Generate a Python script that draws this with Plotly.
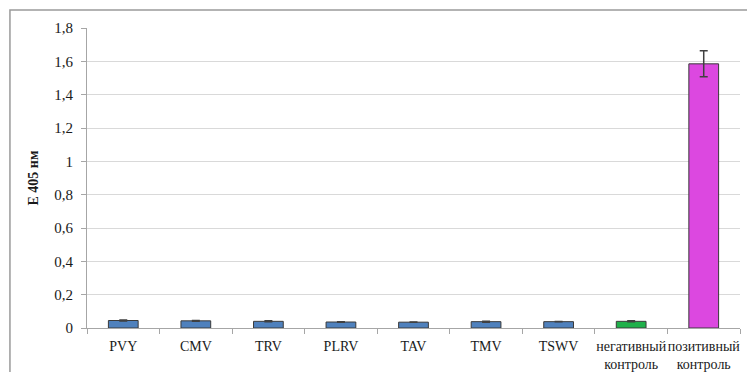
import plotly.graph_objects as go

# Samples tested and their mean absorbance at 405 nm
categories = ["PVY", "CMV", "TRV", "PLRV", "TAV", "TMV", "TSWV",
              "негативный<br>контроль", "позитивный<br>контроль"]
absorbance = [0.045, 0.043, 0.040, 0.036, 0.035, 0.038, 0.038, 0.040, 1.585]
errors = [0.003, 0.002, 0.003, 0.002, 0.001, 0.003, 0.001, 0.003, 0.078]
bar_colors = ["#4f81bd"] * 7 + ["#1fb04a", "#dc48e0"]
y_ticks = [0, 0.2, 0.4, 0.6, 0.8, 1.0, 1.2, 1.4, 1.6, 1.8]

SERIF = "Liberation Serif, Times New Roman, DejaVu Serif, serif"

fig = go.Figure(go.Bar(
    x=categories,
    y=absorbance,
    marker=dict(color=bar_colors, line=dict(color="#3a3a3a", width=1)),
    error_y=dict(type="data", array=errors, visible=True,
                 color="#404040", thickness=1.5, width=4),
))

# Outer frame around the chart
fig.add_shape(type="rect", xref="paper", yref="paper",
              x0=-0.118, x1=1.06, y0=-0.25, y1=1.06,
              line=dict(color="#9a9a9a", width=1.5), fillcolor="rgba(0,0,0,0)",
              layer="below")

fig.update_layout(
    width=747, height=372,
    margin=dict(l=87, r=7, t=28, b=44),
    paper_bgcolor="white", plot_bgcolor="white",
    separators=", ",
    bargap=0.59,
    showlegend=False,
    font=dict(family=SERIF, color="#1a1a1a"),
)
fig.update_xaxes(
    type="category",
    automargin=False,
    tickson="boundaries",
    ticks="outside", ticklen=5, tickcolor="#a6a6a6",
    showline=True, linecolor="#a6a6a6", linewidth=1,
    showgrid=False,
    tickfont=dict(family=SERIF, size=14, color="#1a1a1a"),
    tickangle=0,
    ticklabelstandoff=5,
)
fig.update_yaxes(
    automargin=False,
    range=[0, 1.8],
    tickvals=y_ticks,
    ticks="outside", ticklen=5, tickcolor="#a6a6a6",
    showline=True, linecolor="#a6a6a6", linewidth=1,
    showgrid=True, gridcolor="#d9d9d9", gridwidth=1,
    zeroline=False,
    tickfont=dict(family=SERIF, size=15, color="#1a1a1a"),
    ticklabelstandoff=5,
    title=dict(text="<b>E 405 нм</b>", font=dict(family=SERIF, size=14, color="#1a1a1a"), standoff=12),
)

fig.write_html("out.html")
